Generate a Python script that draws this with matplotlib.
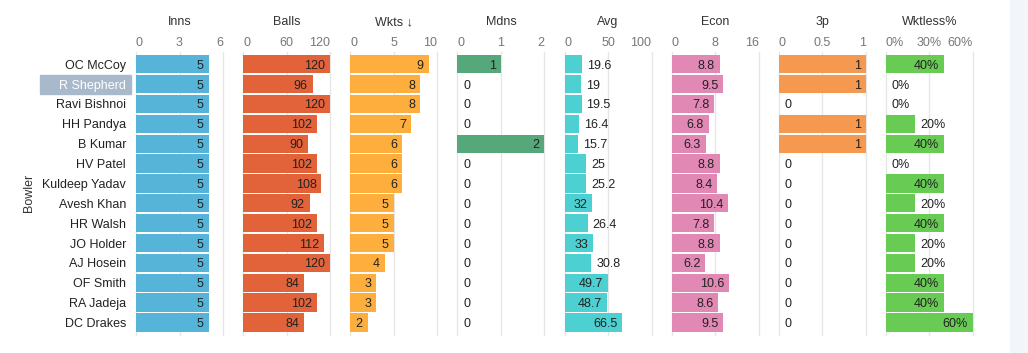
import matplotlib
matplotlib.use('Agg')
import matplotlib.pyplot as plt
from matplotlib.patches import Rectangle

plt.rcParams['font.family'] = ['Liberation Sans', 'DejaVu Sans']

# ─── Data ────────────────────────────────────────────────────────────────────
bowlers = ['OC McCoy', 'R Shepherd', 'Ravi Bishnoi', 'HH Pandya', 'B Kumar',
           'HV Patel', 'Kuldeep Yadav', 'Avesh Khan', 'HR Walsh', 'JO Holder',
           'AJ Hosein', 'OF Smith', 'RA Jadeja', 'DC Drakes']
inns = [5, 5, 5, 5, 5, 5, 5, 5, 5, 5, 5, 5, 5, 5]
balls = [120, 96, 120, 102, 90, 102, 108, 92, 102, 112, 120, 84, 102, 84]
wkts = [9, 8, 8, 7, 6, 6, 6, 5, 5, 5, 4, 3, 3, 2]
mdns = [1, 0, 0, 0, 2, 0, 0, 0, 0, 0, 0, 0, 0, 0]
avg = [19.6, 19, 19.5, 16.4, 15.7, 25, 25.2, 32, 26.4, 33, 30.8, 49.7, 48.7, 66.5]
econ = [8.8, 9.5, 7.8, 6.8, 6.3, 8.8, 8.4, 10.4, 7.8, 8.8, 6.2, 10.6, 8.6, 9.5]
three_p = [1, 1, 0, 1, 1, 0, 0, 0, 0, 0, 0, 0, 0, 0]
wktless = [40, 0, 0, 20, 40, 0, 40, 20, 40, 20, 20, 40, 40, 60]

highlight = 'R Shepherd'

# (title, values, color, ticks, tick labels, value suffix)
panels = [
    ('Inns',     inns,    '#56b4d9', [0, 3, 6],      ['0', '3', '6'],         ''),
    ('Balls',    balls,   '#e2623a', [0, 60, 120],   ['0', '60', '120'],      ''),
    ('Wkts ↓',   wkts,    '#feae3d', [0, 5, 10],     ['0', '5', '10'],        ''),
    ('Mdns',     mdns,    '#56a77a', [0, 1, 2],      ['0', '1', '2'],         ''),
    ('Avg',      avg,     '#4dd0d1', [0, 50, 100],   ['0', '50', '100'],      ''),
    ('Econ',     econ,    '#e188b4', [0, 8, 16],     ['0', '8', '16'],        ''),
    ('3p',       three_p, '#f4994f', [0, 0.5, 1],    ['0', '0.5', '1'],       ''),
    ('Wktless%', wktless, '#68cb54', [0, 30, 60],    ['0%', '30%', '60%'],    '%'),
]

# ─── Layout (pixels) ─────────────────────────────────────────────────────────
W, H = 1028, 353
TOP, BOTTOM = 52, 335
PANEL_W = 87
PAD = 5
n = len(bowlers)
y_top, y_bot = -0.614, 13.63

fig = plt.figure(figsize=(W / 100, H / 100), dpi=100)
fig.patch.set_facecolor('white')
fig.add_artist(Rectangle((1010 / W, 0), 18 / W, 1, transform=fig.transFigure,
                         color='#f2f5fa', zorder=0))
renderer = fig.canvas.get_renderer()

axes = []
for i, (title, vals, color, ticks, tlabels, suffix) in enumerate(panels):
    left = 136 + 107.14 * i
    ax = fig.add_axes([left / W, (H - BOTTOM) / H, PANEL_W / W, (BOTTOM - TOP) / H])
    ax.set_xlim(0, ticks[-1])
    ax.set_ylim(y_bot, y_top)
    ax.axis('off')
    axes.append(ax)

    for t in ticks:
        ax.axvline(t, color='#e6e6e6', lw=1, zorder=0, clip_on=False)

    ax.barh(range(n), vals, height=0.92, color=color, linewidth=0, zorder=2)

    # tick labels: first left-aligned, last right-aligned
    ytick = (BOTTOM - 43) / (BOTTOM - TOP)
    for k, (t, lab) in enumerate(zip(ticks, tlabels)):
        ha = 'left' if k == 0 else ('right' if k == len(ticks) - 1 else 'center')
        ax.text(t, ytick, lab, transform=ax.get_xaxis_transform(), ha=ha,
                va='center', fontsize=9, color='#777777')
    ax.text(0.5, (BOTTOM - 22) / (BOTTOM - TOP), title, transform=ax.transAxes,
            ha='center', va='center', fontsize=9, color='#333333')

    # value labels: inside if they fit, else outside
    px_per_unit = PANEL_W / ticks[-1]
    pad = PAD / px_per_unit
    for r, v in enumerate(vals):
        s = f'{v:g}{suffix}'
        txt = ax.text(v - pad, r, s, ha='right', va='center_baseline',
                      fontsize=9, color='#222222', zorder=3)
        w = txt.get_window_extent(renderer).width
        if w + 2 * PAD > v * px_per_unit:
            txt.set_x(v + pad + (1 / px_per_unit if v == 0 else 0))
            txt.set_ha('left')

# bowler names
ax0 = axes[0]
lab_x = (126 - 136) / PANEL_W
for r, name in enumerate(bowlers):
    col = '#222222'
    if name == highlight:
        ax0.add_patch(Rectangle(((40 - 136) / PANEL_W, r - 0.48),
                                (131 - 40) / PANEL_W, 0.96,
                                transform=ax0.get_yaxis_transform(),
                                color='#a9b9cc', clip_on=False, zorder=1))
        col = 'white'
    ax0.text(lab_x, r, name, transform=ax0.get_yaxis_transform(), ha='right',
             va='center_baseline', fontsize=9, color=col, zorder=2)

fig.text(29 / W, 1 - 193 / H, 'Bowler', rotation=90, ha='center', va='center',
         fontsize=9, color='#333333')

plt.savefig('out.png', dpi=100, facecolor='white')
plt.close()
